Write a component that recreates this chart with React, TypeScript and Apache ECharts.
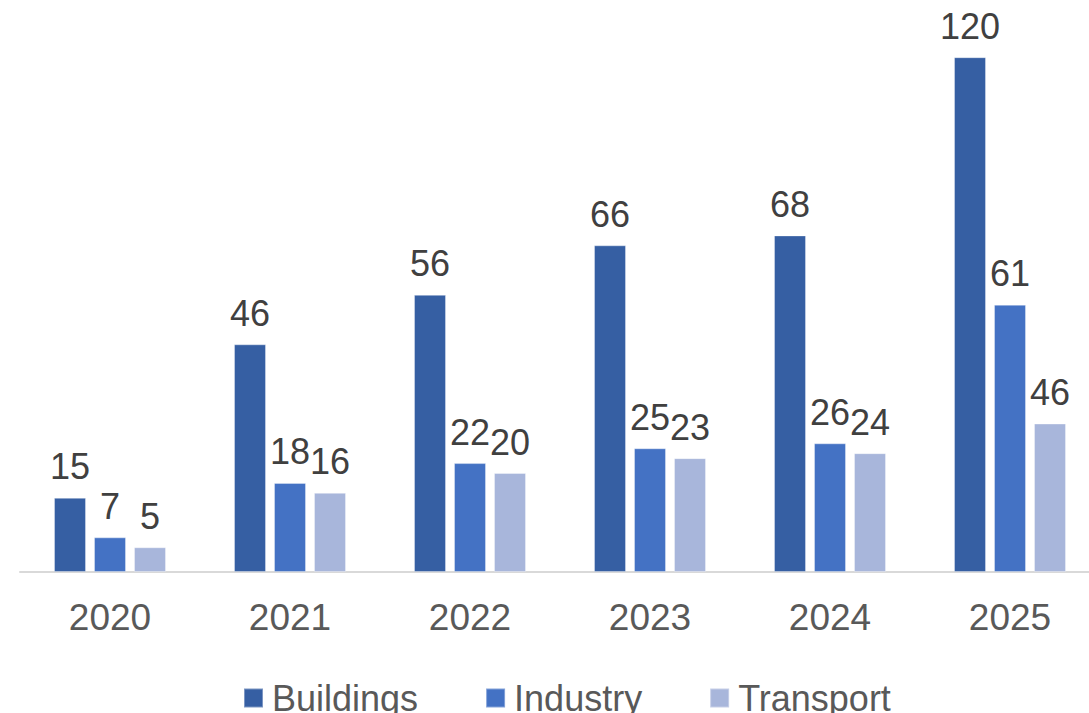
import React, { useEffect, useRef } from "react";
import * as echarts from "echarts";

const categories = ["2020", "2021", "2022", "2023", "2024", "2025"];
const seriesNames = ["Buildings", "Industry", "Transport"];
// bar heights as drawn in the picture
const buildingsBars = [15, 46, 56, 66, 68, 104];
const industryBars = [7, 18, 22, 25, 26, 54];
const transportBars = [5, 16, 20, 23, 24, 30];
// data labels as printed
const buildingsLabels = [15, 46, 56, 66, 68, 120];
const industryLabels = [7, 18, 22, 25, 26, 61];
const transportLabels = [5, 16, 20, 23, 24, 46];
const colors = ["#365FA3", "#4472C4", "#A8B6DB"];

export default function App() {
  const ref = useRef<HTMLDivElement>(null);
  useEffect(() => {
    if (!ref.current) return;
    const chart = echarts.init(ref.current, undefined, { renderer: "svg" });
    const font = "'Liberation Sans', Arial, sans-serif";
    const bars = [buildingsBars, industryBars, transportBars];
    const labels = [buildingsLabels, industryLabels, transportLabels];
    chart.setOption({
      animation: false,
      textStyle: { fontFamily: font },
      grid: { left: 20, right: 0, top: 27.5, bottom: 141, containLabel: false },
      legend: {
        data: seriesNames,
        bottom: -3,
        left: 243,
        padding: 0,
        itemWidth: 19,
        itemHeight: 19,
        itemGap: 67,
        icon: "rect",
        textStyle: { fontSize: 36, color: "#595959", fontFamily: font, padding: [0, 0, 0, 4] },
      },
      xAxis: {
        type: "category",
        data: categories,
        axisLine: { lineStyle: { color: "#D9D9D9", width: 2 } },
        axisTick: { show: false },
        axisLabel: { fontSize: 37, color: "#595959", margin: 27, fontFamily: font },
      },
      yAxis: {
        type: "value",
        min: 0,
        max: 110,
        show: false,
        splitLine: { show: false },
      },
      series: seriesNames.map((name, i) => ({
        name,
        type: "bar",
        data: bars[i],
        barWidth: 32,
        barGap: "25%",
        itemStyle: { color: colors[i], borderColor: "rgba(255,255,255,0.35)", borderWidth: 1 },
        label: {
          show: true,
          position: "top",
          distance: 13,
          fontSize: 36,
          color: "#404040",
          fontFamily: font,
          formatter: (p: any) => String(labels[i][p.dataIndex]),
        },
      })),
    });
    return () => chart.dispose();
  }, []);
  return (
    <div style={{ width: 1089, height: 713, position: "absolute", left: 0, top: 0, overflow: "hidden", background: "#fff" }}>
      <div ref={ref} style={{ width: 1100, height: 713, position: "absolute", left: 0, top: 0 }} />
    </div>
  );
}
